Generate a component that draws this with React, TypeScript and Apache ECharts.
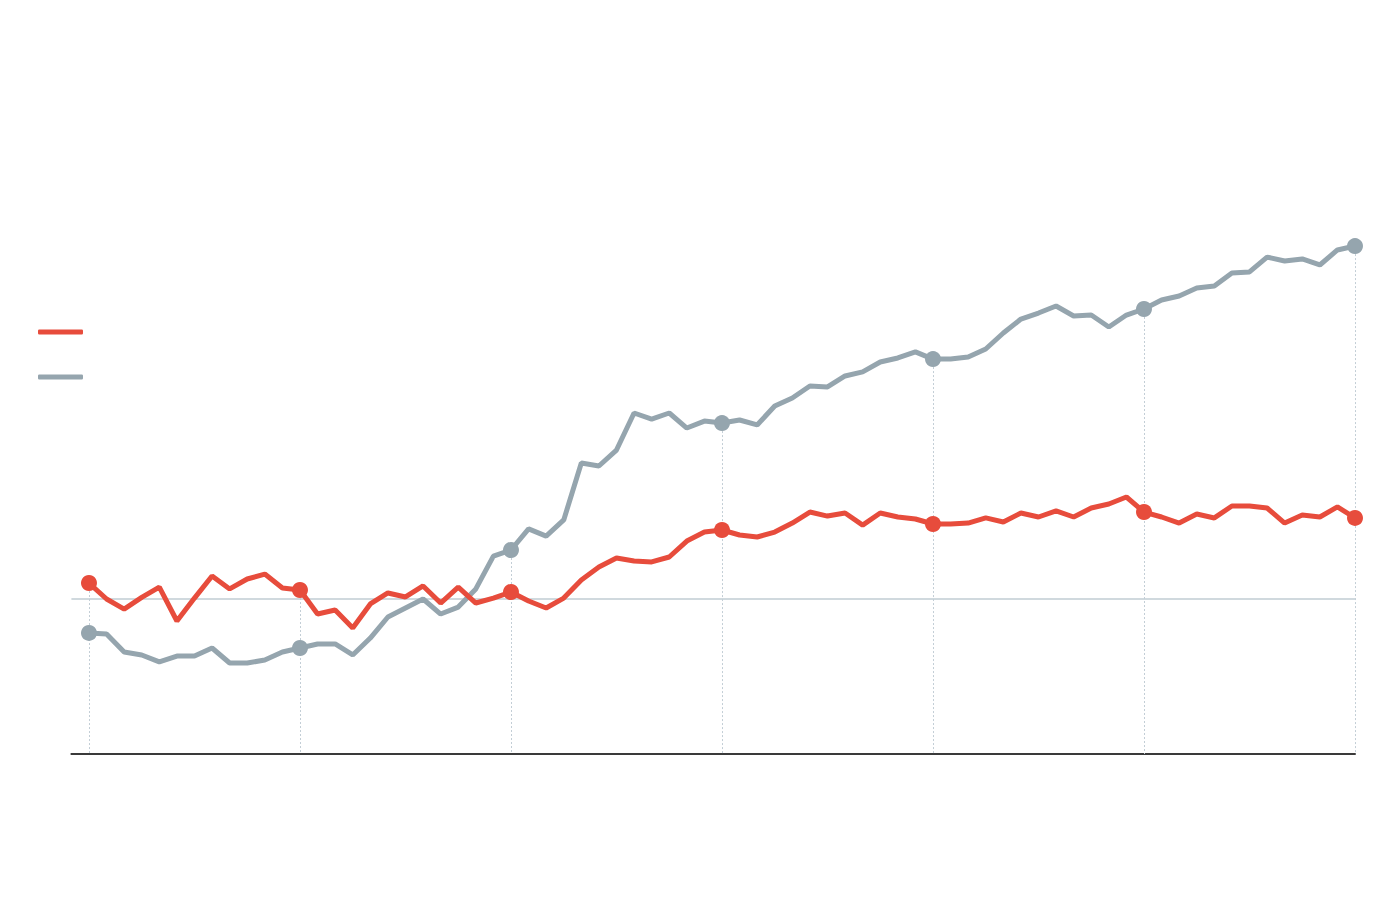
import React, { useEffect, useRef } from "react";
import * as echarts from "echarts";

// Monthly index (73 points, markers every 12th month). No visible labels in the reference.
const seriesNames = ["Series A", "Series B"];
const redValues = [
  1.03, 0.0, -0.65, 0.1, 0.77, -1.42, 0.06, 1.48, 0.65, 1.29, 1.61, 0.71,
  0.58, -0.97, -0.71, -1.87, -0.32, 0.39, 0.13, 0.84, -0.26, 0.77, -0.26, 0.06,
  0.45, -0.13, -0.58, 0.06, 1.23, 2.06, 2.65, 2.45, 2.39, 2.71, 3.74, 4.32,
  4.45, 4.13, 4.0, 4.32, 4.9, 5.61, 5.35, 5.55, 4.77, 5.55, 5.29, 5.16,
  4.84, 4.84, 4.9, 5.23, 4.97, 5.55, 5.29, 5.68, 5.29, 5.87, 6.13, 6.58,
  5.61, 5.29, 4.9, 5.48, 5.23, 6.0, 6.0, 5.87, 4.9, 5.42, 5.29, 5.94,
  5.23,
];
const grayValues = [
  -2.19, -2.26, -3.42, -3.61, -4.06, -3.68, -3.68, -3.16, -4.13, -4.13, -3.94, -3.42,
  -3.16, -2.9, -2.9, -3.61, -2.52, -1.16, -0.58, 0.0, -0.97, -0.52, 0.65, 2.77,
  3.16, 4.52, 4.06, 5.1, 8.77, 8.58, 9.61, 12.0, 11.61, 12.0, 11.03, 11.48,
  11.35, 11.55, 11.23, 12.45, 12.97, 13.74, 13.68, 14.39, 14.65, 15.29, 15.55, 15.94,
  15.48, 15.48, 15.61, 16.13, 17.16, 18.06, 18.45, 18.9, 18.26, 18.32, 17.55, 18.32,
  18.71, 19.29, 19.55, 20.06, 20.19, 21.03, 21.1, 22.06, 21.81, 21.94, 21.55, 22.52,
  22.77,
];
const baselineValue = 0;
const markerEvery = 12;
const yMin = -10;
const yMax = 30;

const RED = "#e74c3c";
const GRAY = "#95a5ae";

export default function App() {
  const ref = useRef<HTMLDivElement>(null);
  useEffect(() => {
    if (!ref.current) return;
    const chart = echarts.init(ref.current, undefined, { renderer: "svg" });
    const n = redValues.length;
    const markerIdx: number[] = [];
    for (let i = 0; i < n; i += markerEvery) markerIdx.push(i);
    const dropLines = markerIdx.map((i) => [
      { coord: [i, Math.max(redValues[i], grayValues[i])] },
      { coord: [i, yMin] },
    ]);
    const symbolSize = (_v: any, p: any) => (p.dataIndex % markerEvery === 0 ? 16 : 0);
    chart.setOption({
      animation: false,
      backgroundColor: "#ffffff",
      grid: { left: 71.4, right: 45, top: 134, bottom: 168 },
      legend: {
        orient: "vertical",
        left: 33,
        top: 324.5,
        itemWidth: 45,
        itemHeight: 5,
        itemGap: 40,
        icon: "roundRect",
        formatter: () => "",
        data: [
          { name: seriesNames[0], itemStyle: { color: RED } },
          { name: seriesNames[1], itemStyle: { color: GRAY } },
        ],
        selectedMode: false,
      },
      xAxis: {
        type: "value",
        min: -1,
        max: n - 1,
        axisLine: { show: true, onZero: false, lineStyle: { color: "#3a3a3a", width: 2 } },
        axisTick: { show: false },
        axisLabel: { show: false },
        splitLine: { show: false },
      },
      yAxis: {
        type: "value",
        min: yMin,
        max: yMax,
        axisLine: { show: false },
        axisTick: { show: false },
        axisLabel: { show: false },
        splitLine: { show: false },
      },
      series: [
        {
          name: seriesNames[1],
          type: "line",
          data: grayValues.map((v, i) => [i, v]),
          color: GRAY,
          lineStyle: { width: 5, color: GRAY },
          symbol: "circle",
          showSymbol: true,
          showAllSymbol: true,
          symbolSize,
          itemStyle: { color: GRAY },
          z: 3,
          markLine: {
            silent: true,
            symbol: "none",
            label: { show: false },
            lineStyle: { color: "#d0d9de", type: "solid", width: 2 },
            data: [[{ coord: [-1, baselineValue] }, { coord: [n - 1, baselineValue] }]],
            z: 1,
          },
        },
        {
          name: seriesNames[0],
          type: "line",
          data: redValues.map((v, i) => [i, v]),
          color: RED,
          lineStyle: { width: 5, color: RED },
          symbol: "circle",
          showSymbol: true,
          showAllSymbol: true,
          symbolSize,
          itemStyle: { color: RED },
          z: 4,
          markLine: {
            silent: true,
            symbol: "none",
            label: { show: false },
            lineStyle: { color: "#c3ced6", type: [2, 2], width: 1 },
            data: dropLines,
            z: 1,
          },
        },
      ],
    });
    return () => chart.dispose();
  }, []);
  return (
    <div
      ref={ref}
      style={{ position: "fixed", left: 0, top: 0, width: 1400, height: 922, background: "#fff" }}
    />
  );
}
